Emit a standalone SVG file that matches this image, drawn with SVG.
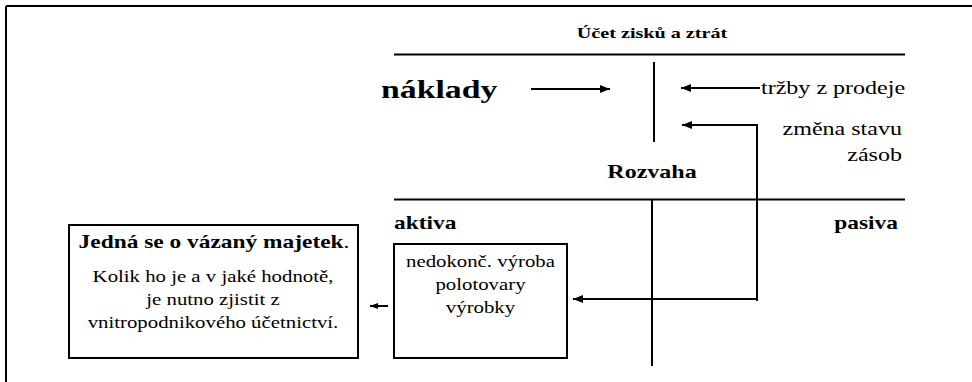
<svg xmlns="http://www.w3.org/2000/svg" width="972" height="382" viewBox="0 0 972 382">
<defs>
<marker id="ah" viewBox="0 0 10 8" refX="10" refY="4" markerWidth="10" markerHeight="8" markerUnits="userSpaceOnUse" orient="auto">
<path d="M0,0 L10,4 L0,8 Z" fill="#000"/>
</marker>
<marker id="ahs" viewBox="0 0 8 6" refX="8" refY="3" markerWidth="8" markerHeight="6" markerUnits="userSpaceOnUse" orient="auto">
<path d="M0,0 L8,3 L0,6 Z" fill="#000"/>
</marker>
</defs>
<style>
text{font-family:"Liberation Serif","Times New Roman",serif;fill:#000}
.b{font-weight:bold}
.m{text-anchor:middle}
.e{text-anchor:end}
.ln{stroke:#000;stroke-width:2;fill:none}
.box{stroke:#000;stroke-width:2;fill:#fff}
</style>
<rect width="972" height="382" fill="#fff"/>
<g id="frame">
<line class="ln" x1="6" y1="6" x2="972" y2="6" stroke-width="3"/>
<line class="ln" x1="6" y1="6" x2="6" y2="382"/>
</g>
<g id="ucet-zisku" font-family="Liberation Serif, serif">
<text class="b m" transform="translate(652,38) scale(1.3,1)" font-size="15.5">Účet zisků a ztrát</text>
<line class="ln" x1="394" y1="54.5" x2="905" y2="54.5"/>
<line class="ln" x1="654" y1="62" x2="654" y2="142"/>
<text class="b" transform="translate(381,98) scale(1.3,1)" font-size="26">náklady</text>
<text transform="translate(761,94) scale(1.3,1)" font-size="18.5">tržby z prodeje</text>
<text class="e" transform="translate(902,135) scale(1.3,1)" font-size="18.5">změna stavu</text>
<text class="e" transform="translate(902,161) scale(1.3,1)" font-size="18.5">zásob</text>
</g>
<g id="rozvaha" font-family="Liberation Serif, serif">
<text class="b m" transform="translate(652,178) scale(1.3,1)" font-size="18.5">Rozvaha</text>
<line class="ln" x1="394" y1="199.5" x2="905" y2="199.5"/>
<line class="ln" x1="652" y1="200" x2="652" y2="366"/>
<text class="b" transform="translate(394,229) scale(1.3,1)" font-size="18">aktiva</text>
<text class="b e" transform="translate(898,229) scale(1.3,1)" font-size="18">pasiva</text>
</g>
<g id="zasoby-box" font-family="Liberation Serif, serif">
<rect class="box" x="394" y="244" width="173" height="114"/>
<text class="m" transform="translate(480.5,267) scale(1.3,1)" font-size="16">nedokonč. výroba</text>
<text class="m" transform="translate(480.5,290) scale(1.3,1)" font-size="16">polotovary</text>
<text class="m" transform="translate(480.5,313) scale(1.3,1)" font-size="16">výrobky</text>
</g>
<g id="majetek-box" font-family="Liberation Serif, serif">
<rect class="box" x="69" y="225" width="289" height="133"/>
<text class="m" transform="translate(214,248) scale(1.3,1)" font-size="18"><tspan class="b">Jedná se o vázaný majetek</tspan>.</text>
<text class="m" transform="translate(213,282) scale(1.3,1)" font-size="16">Kolik ho je a v jaké hodnotě,</text>
<text class="m" transform="translate(213,305) scale(1.3,1)" font-size="16">je nutno zjistit z</text>
<text class="m" transform="translate(213,328) scale(1.3,1)" font-size="16">vnitropodnikového účetnictví.</text>
</g>
<g id="connectors">
<line class="ln" x1="531" y1="89" x2="610" y2="89" marker-end="url(#ah)"/>
<line class="ln" x1="760" y1="88" x2="681" y2="88" marker-end="url(#ah)"/>
<polyline class="ln" points="757,301 757,125 682,125" marker-end="url(#ah)"/>
<line class="ln" x1="757" y1="299" x2="573" y2="299" marker-end="url(#ah)"/>
<line class="ln" x1="388" y1="306" x2="370" y2="306" marker-end="url(#ahs)"/>
</g>
</svg>
